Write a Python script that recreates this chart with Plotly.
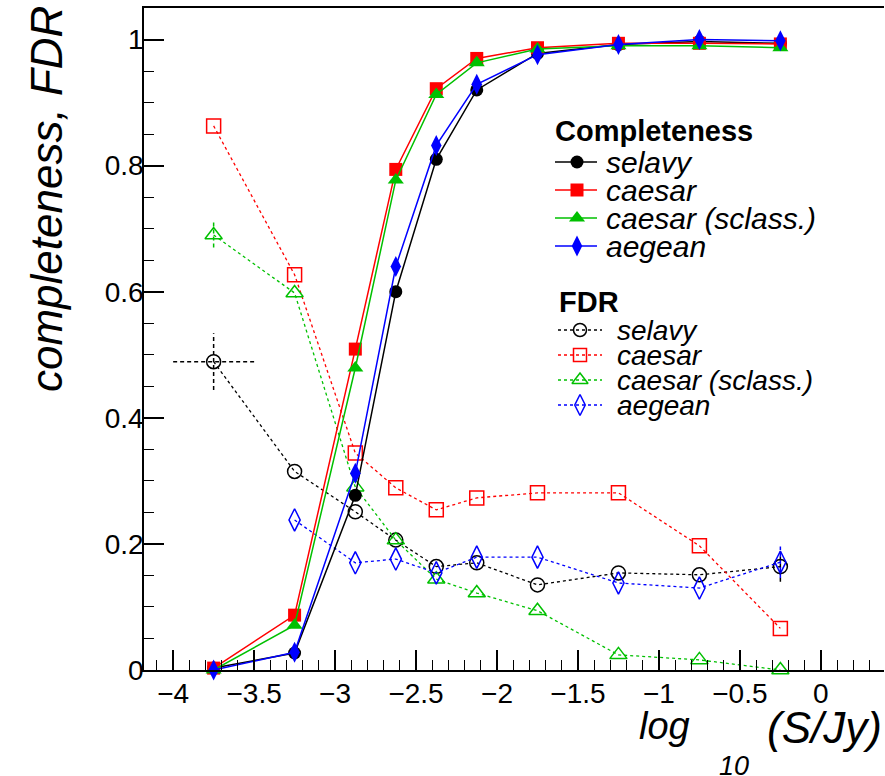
import plotly.graph_objects as go

# ---- data ----
log_s = [-3.75, -3.25, -2.875, -2.625, -2.375, -2.125, -1.75, -1.25, -0.75, -0.25]

compl_selavy = [0.003, 0.027, 0.277, 0.600, 0.810, 0.920, 0.978, 0.992, 0.997, 0.994]
compl_caesar = [0.003, 0.087, 0.509, 0.794, 0.922, 0.970, 0.987, 0.994, 0.994, 0.993]
compl_sclass = [0.000, 0.071, 0.479, 0.777, 0.913, 0.963, 0.985, 0.990, 0.990, 0.987]
compl_aegean = [0.000, 0.028, 0.312, 0.640, 0.832, 0.929, 0.976, 0.992, 1.000, 0.998]

fdr_selavy = [0.489, 0.315, 0.251, 0.206, 0.164, 0.170, 0.135, 0.154, 0.151, 0.164]
fdr_selavy_ex = [0.25, 0, 0, 0, 0, 0, 0, 0, 0, 0]
fdr_selavy_ey = [0.045, 0, 0, 0, 0, 0, 0, 0, 0, 0.024]
fdr_caesar = [0.863, 0.627, 0.344, 0.289, 0.254, 0.273, 0.281, 0.281, 0.197, 0.066]
fdr_sclass = [0.690, 0.598, 0.290, 0.206, 0.144, 0.122, 0.094, 0.024, 0.016, 0.000]
fdr_sclass_ey = [0.02, 0, 0, 0, 0, 0, 0, 0, 0, 0]
fdr_aegean_x = [-3.25, -2.875, -2.625, -2.375, -2.125, -1.75, -1.25, -0.75, -0.25]
fdr_aegean = [0.238, 0.170, 0.176, 0.154, 0.179, 0.179, 0.138, 0.130, 0.171]
fdr_aegean_ey = [0, 0, 0, 0, 0, 0, 0, 0, 0.025]

names = ["selavy", "caesar", "caesar (sclass.)", "aegean"]

BLACK = "#000000"
RED = "#ff0000"
GREEN = "#00c000"
BLUE = "#0000ff"
colors = [BLACK, RED, GREEN, BLUE]
FONT = "Liberation Sans, Arial, Helvetica"

# ---- layout constants (pixels in the 885x776 picture) ----
L, R, T, B = 144, 884, 8, 670
COMP_HDR = (553, 131)
COMP_ROWS = [162, 190, 218, 246]
COMP_LINE = (555, 597)
COMP_MK_X = 577
COMP_TXT_X = 604
FDR_HDR = (557, 302)
FDR_ROWS = [330, 355, 380, 405]
FDR_LINE = (558, 602)
FDR_MK_X = 580
FDR_TXT_X = 615

fig = go.Figure()

# FDR error bars as dashed segments (derived from the data arrays)
def err_segments(xs, ys, exs, eys):
    sx, sy = [], []
    for x, y, ex, ey in zip(xs, ys, exs, eys):
        if ex > 0:
            sx += [x - ex, x + ex, None]
            sy += [y, y, None]
        if ey > 0:
            sx += [x, x, None]
            sy += [y - ey, y + ey, None]
    return sx, sy

for xs, ys, exs, eys, col in [
    (log_s, fdr_selavy, fdr_selavy_ex, fdr_selavy_ey, BLACK),
    (log_s, fdr_sclass, [0] * len(log_s), fdr_sclass_ey, GREEN),
    (fdr_aegean_x, fdr_aegean, [0] * len(fdr_aegean_x), fdr_aegean_ey, BLUE),
]:
    sx, sy = err_segments(xs, ys, exs, eys)
    fig.add_trace(go.Scatter(x=sx, y=sy, mode="lines", showlegend=False,
                             line=dict(color=col, width=1.5, dash="4px,3px"),
                             hoverinfo="skip", cliponaxis=False))

fdr_xs = [log_s, log_s, log_s, fdr_aegean_x]
fdr_ys = [fdr_selavy, fdr_caesar, fdr_sclass, fdr_aegean]
fdr_sym = ["circle-open", "square-open", "triangle-up-open", "diamond-tall-open"]
fdr_sz = [14, 14, 15, 16]
comp_ys = [compl_selavy, compl_caesar, compl_sclass, compl_aegean]
comp_sym = ["circle", "square", "triangle-up", "diamond-tall"]
comp_sz = [13, 13, 14, 15]

for i in range(4):
    fig.add_trace(go.Scatter(
        x=fdr_xs[i], y=fdr_ys[i], mode="lines+markers", name=names[i], showlegend=False,
        line=dict(color=colors[i], width=1.3, dash="3px,3px"),
        marker=dict(symbol=fdr_sym[i], size=fdr_sz[i], color=colors[i],
                    line=dict(width=1.5, color=colors[i])),
        cliponaxis=False))

for i in range(4):
    fig.add_trace(go.Scatter(
        x=log_s, y=comp_ys[i], mode="lines+markers", name=names[i], showlegend=False,
        line=dict(color=colors[i], width=1.5),
        marker=dict(symbol=comp_sym[i], size=comp_sz[i], color=colors[i], line=dict(width=0)),
        cliponaxis=False))

# ---- hand-built legend on a pixel overlay axis ----
annotations = []
for i in range(4):
    y = COMP_ROWS[i]
    fig.add_trace(go.Scatter(x=[COMP_LINE[0], COMP_LINE[1]], y=[y, y], mode="lines",
                             xaxis="x2", yaxis="y2", showlegend=False, hoverinfo="skip",
                             line=dict(color=colors[i], width=1.5)))
    fig.add_trace(go.Scatter(x=[COMP_MK_X], y=[y], mode="markers",
                             xaxis="x2", yaxis="y2", showlegend=False, hoverinfo="skip",
                             marker=dict(symbol=comp_sym[i], size=comp_sz[i], color=colors[i], line=dict(width=0))))
    annotations.append(dict(text="<i>" + names[i] + "</i>", xref="x2", yref="y2",
                            x=COMP_TXT_X, y=y, xanchor="left", yanchor="middle", showarrow=False,
                            font=dict(family=FONT, size=30, color="black")))
    y = FDR_ROWS[i]
    fig.add_trace(go.Scatter(x=[FDR_LINE[0], FDR_LINE[1]], y=[y, y], mode="lines",
                             xaxis="x2", yaxis="y2", showlegend=False, hoverinfo="skip",
                             line=dict(color=colors[i], width=1.3, dash="3px,3px")))
    fig.add_trace(go.Scatter(x=[FDR_MK_X], y=[y], mode="markers",
                             xaxis="x2", yaxis="y2", showlegend=False, hoverinfo="skip",
                             marker=dict(symbol=fdr_sym[i], size=fdr_sz[i] - 1, color=colors[i],
                                         line=dict(width=1.5, color=colors[i]))))
    annotations.append(dict(text="<i>" + names[i] + "</i>", xref="x2", yref="y2",
                            x=FDR_TXT_X, y=y, xanchor="left", yanchor="middle", showarrow=False,
                            font=dict(family=FONT, size=28, color="black")))

annotations.append(dict(text="<b>Completeness</b>", xref="x2", yref="y2", x=COMP_HDR[0], y=COMP_HDR[1],
                        xanchor="left", yanchor="middle", showarrow=False,
                        font=dict(family=FONT, size=29, color="black")))
annotations.append(dict(text="<b>FDR</b>", xref="x2", yref="y2", x=FDR_HDR[0], y=FDR_HDR[1],
                        xanchor="left", yanchor="middle", showarrow=False,
                        font=dict(family=FONT, size=29, color="black")))

# axis titles
def py(p):
    return (B - p) / (B - T)

def px(p):
    return (p - L) / (R - L)

annotations += [
    dict(text="<i>completeness, FDR</i>", textangle=-90, xref="paper", yref="paper",
         x=px(46), y=py(4), xanchor="center", yanchor="top",
         showarrow=False, font=dict(family=FONT, size=44, color="black")),
    dict(text="<i>log</i>", xref="paper", yref="paper", x=px(692), y=py(726),
         xanchor="right", yanchor="middle", showarrow=False,
         font=dict(family=FONT, size=38, color="black")),
    dict(text="<i>10</i>", xref="paper", yref="paper", x=px(717), y=py(766),
         xanchor="left", yanchor="middle", showarrow=False,
         font=dict(family=FONT, size=27, color="black")),
    dict(text="<i>(S/Jy)</i>", xref="paper", yref="paper", x=px(884), y=py(727),
         xanchor="right", yanchor="middle", showarrow=False,
         font=dict(family=FONT, size=44, color="black")),
]

tickfont = dict(family=FONT, size=28, color="black")

fig.update_layout(
    width=885, height=776,
    margin=dict(l=L, r=885 - R, t=T, b=776 - B),
    paper_bgcolor="white", plot_bgcolor="white",
    font=dict(family=FONT, color="black"),
    showlegend=False,
    xaxis=dict(
        range=[-4.18, 0.39], showgrid=False, zeroline=False,
        showline=True, linecolor="black", linewidth=1.5, mirror=True,
        ticks="inside", ticklen=20, tickwidth=1.5, tickcolor="black",
        tick0=-4, dtick=0.5, tickfont=tickfont,
        minor=dict(ticks="inside", ticklen=10, tickwidth=1.2, tickcolor="black", dtick=0.1, tick0=-4),
        ticklabelstandoff=-2,
    ),
    yaxis=dict(
        range=[0, 1.05], showgrid=False, zeroline=False,
        showline=True, linecolor="black", linewidth=1.5,
        ticks="inside", ticklen=20, tickwidth=1.5, tickcolor="black",
        tick0=0, dtick=0.2, tickfont=tickfont,
        minor=dict(ticks="inside", ticklen=10, tickwidth=1.2, tickcolor="black", dtick=0.05, tick0=0),
        ticklabelstandoff=-7,
    ),
    xaxis2=dict(range=[L, R], overlaying="x", visible=False, fixedrange=True),
    yaxis2=dict(range=[B, T], overlaying="y", visible=False, fixedrange=True),
    annotations=annotations,
)

fig.write_html("out.html")
